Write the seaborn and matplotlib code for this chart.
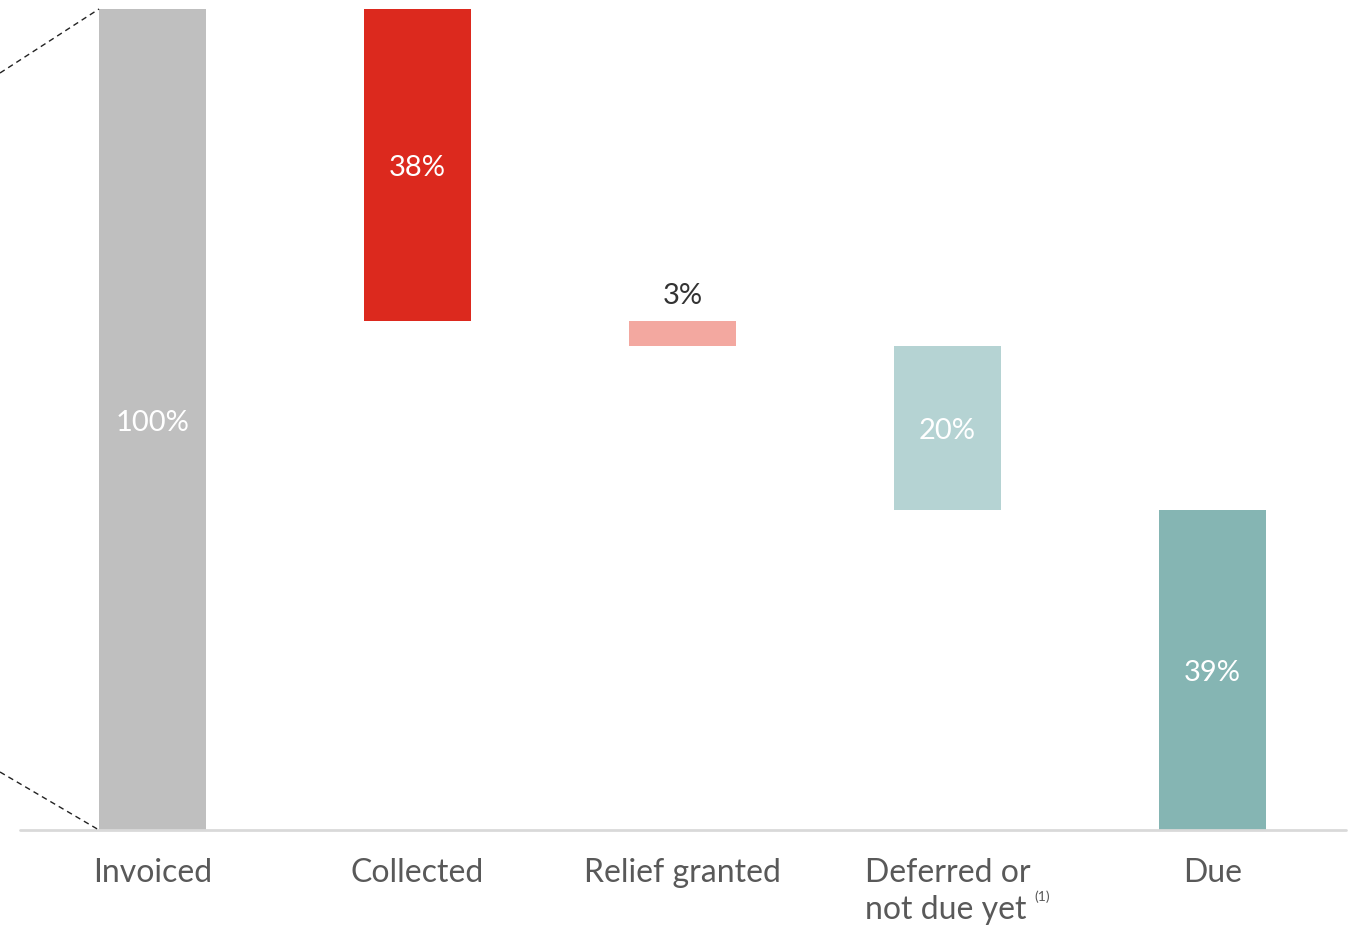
import matplotlib
matplotlib.use("Agg")
import matplotlib.pyplot as plt
from matplotlib.lines import Line2D
import seaborn as sns
import pandas as pd

# Waterfall of invoiced amounts (% of total invoiced)
categories = ["Invoiced", "Collected", "Relief granted", "Deferred or\nnot due yet", "Due"]
values = [100, 38, 3, 20, 39]
bottoms = [0, 62, 59, 39, 0]
value_labels = ["100%", "38%", "3%", "20%", "39%"]
colors = ["#bfbfbf", "#dc291e", "#f3a8a0", "#b5d3d3", "#85b5b3"]

sns.set_theme(style="white")
plt.rcParams["font.family"] = ["Lato", "DejaVu Sans"]

W, H = 1358, 925
fig = plt.figure(figsize=(W / 100, H / 100), dpi=100)
ax = fig.add_axes([0, (H - 830) / H, 1, 821 / H])

# one floating bar per category, kept on the shared categorical axis
for cat, v, b, c in zip(categories, values, bottoms, colors):
    sns.barplot(x=[cat], y=[v], order=categories, color=c, bottom=b,
                width=107 / 265, ax=ax, saturation=1, linewidth=0)

ax.set_xlim(-152.5 / 265, (W - 152.5) / 265)
ax.set_ylim(0, 100)
for s in ax.spines.values():
    s.set_visible(False)
ax.set_yticks([])
ax.set_ylabel("")
ax.set_xlabel("")
ax.tick_params(axis="x", length=0, pad=20, labelsize=23, labelcolor="#595959")
for lbl in ax.get_xticklabels():
    lbl.set_multialignment("left")
    lbl.set_verticalalignment("top")
    lbl.set_linespacing(1.3)

# baseline
x0 = (20 - 152.5) / 265
x1 = (1346 - 152.5) / 265
ax.add_line(Line2D([x0, x1], [0, 0], color="#d9d9d9", lw=2, clip_on=False))

# dashed zoom lines on the left edge
bl = -107 / 265 / 2
ax.add_line(Line2D([-152.5 / 265, bl], [(830 - 73) / 8.21, 100], color="#222222",
                   lw=1, ls=(0, (4, 3)), clip_on=False))
ax.add_line(Line2D([-152.5 / 265, bl], [(830 - 772) / 8.21, 0], color="#222222",
                   lw=1, ls=(0, (4, 3)), clip_on=False))

# value labels
for i, (v, b, t) in enumerate(zip(values, bottoms, value_labels)):
    if v < 10:
        ax.text(i, b + v + 3.0, t, ha="center", va="center", fontsize=21,
                color="#333333")
    else:
        ax.text(i, b + v / 2 - 0.4, t, ha="center", va="center", fontsize=21,
                color="white")

# footnote marker after the fourth category label
fig.canvas.draw()
tl = ax.get_xticklabels()[3]
ax.annotate("(1)", xy=(1, 0.42), xycoords=tl, xytext=(3, 0),
            textcoords="offset points", ha="left", va="center",
            fontsize=10, color="#595959")

fig.savefig("out.png", dpi=100)
